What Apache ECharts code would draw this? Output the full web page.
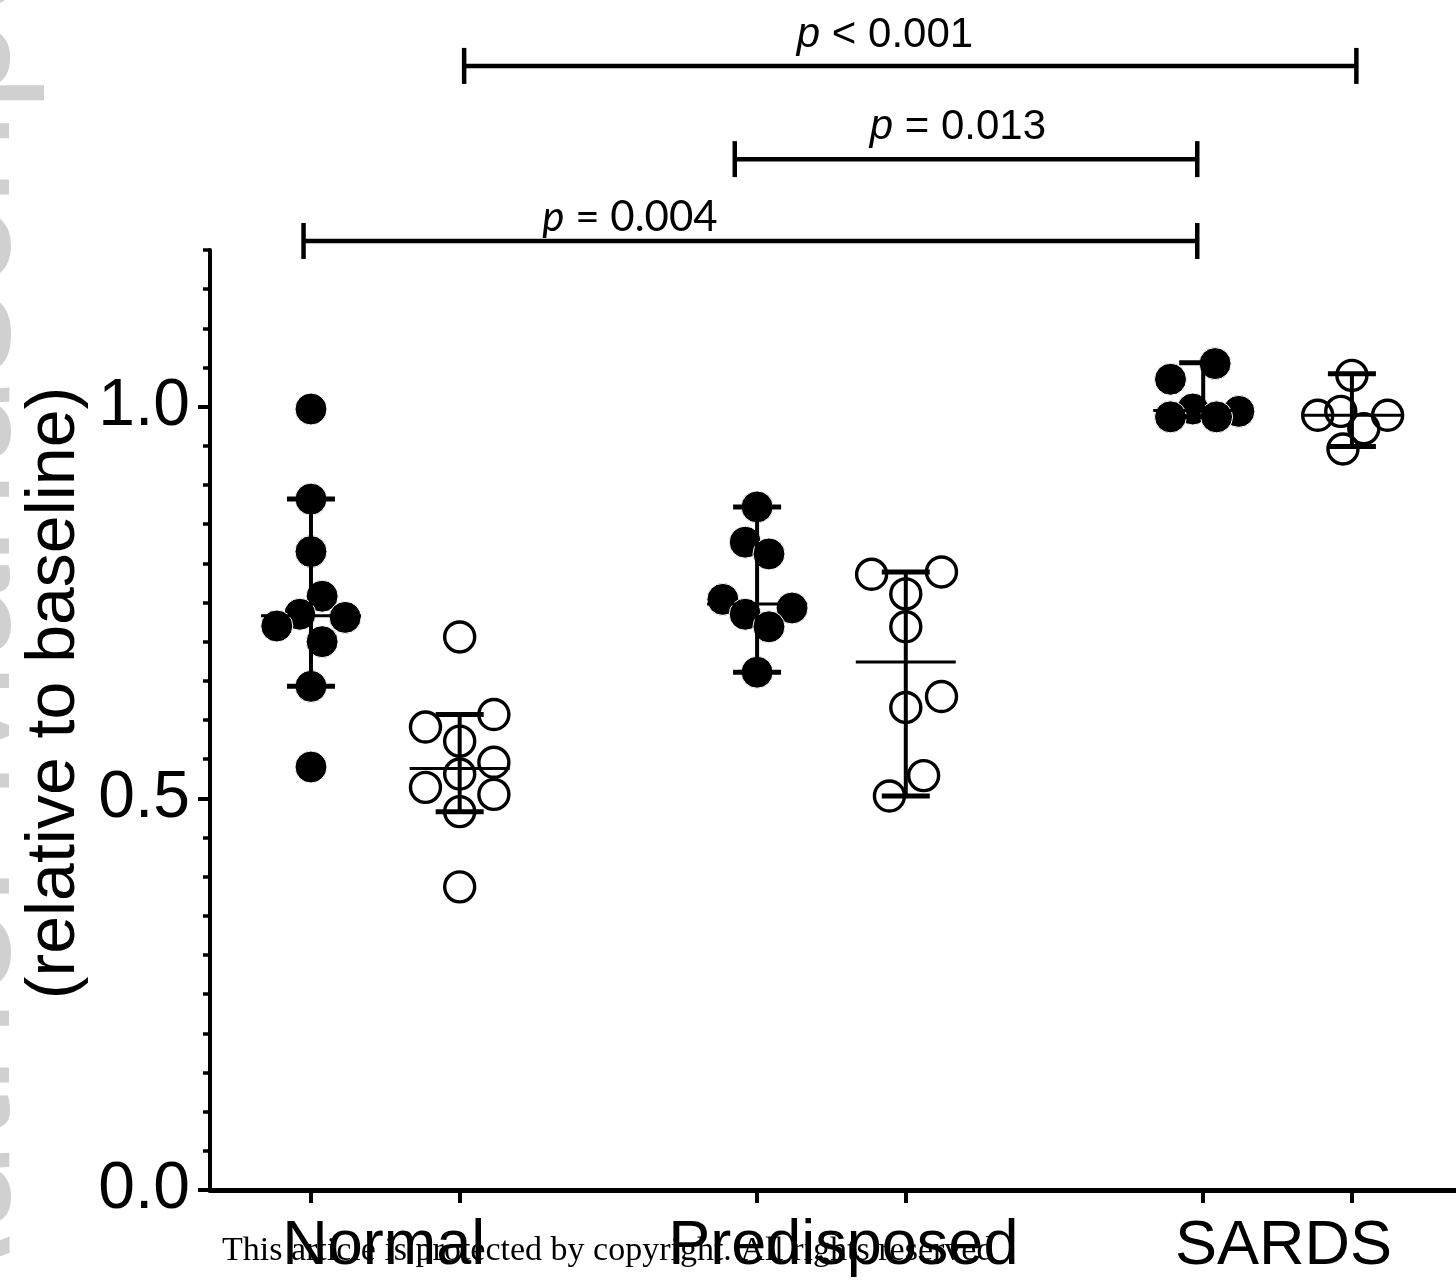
<!DOCTYPE html>
<html lang="en">
<head>
<meta charset="UTF-8">
<title>Relative to baseline</title>
<script src="https://cdn.jsdelivr.net/npm/echarts@6/dist/echarts.min.js"></script>
<style>
    html, body { margin: 0; padding: 0; background: #fff; }
    #main { width: 1456px; height: 1285px; }
</style>
</head>
<body>
<div id="main"></div>
<script>
    // groups and column positions on the x axis
    var groupNames = ['Normal', 'Predisposed', 'SARDS'];
    var groupLabelPos = [1.49, 4.58, 7.54];
    var columnPos = [1, 2, 4, 5, 7, 8];

    // y axis ticks
    var yMajorTicks = [0, 0.5, 1.0];
    var yMinorStep = 0.05;

    // points (value + horizontal jitter), filled = first column, open = second column
    var normalFilledVals = [0.997, 0.882, 0.815, 0.758, 0.735, 0.731, 0.720, 0.700, 0.643, 0.540];
    var normalFilledJit  = [0, 0, 0, 0.075, -0.075, 0.23, -0.23, 0.075, 0, 0];
    var normalOpenVals   = [0.706, 0.607, 0.591, 0.573, 0.546, 0.531, 0.514, 0.505, 0.483, 0.387];
    var normalOpenJit    = [0, 0.23, -0.23, 0, 0.23, 0, -0.23, 0.23, 0, 0];
    var predFilledVals   = [0.872, 0.827, 0.812, 0.754, 0.743, 0.735, 0.719, 0.661];
    var predFilledJit    = [0, -0.08, 0.08, -0.23, 0.235, -0.08, 0.08, 0];
    var predOpenVals     = [0.789, 0.786, 0.761, 0.719, 0.630, 0.616, 0.529, 0.503];
    var predOpenJit      = [0.24, -0.23, 0, 0, 0.24, 0, 0.12, -0.11];
    var sardsFilledVals  = [1.055, 1.035, 0.997, 0.994, 0.987, 0.987];
    var sardsFilledJit   = [0.08, -0.22, -0.07, 0.24, -0.22, 0.09];
    var sardsOpenVals    = [1.040, 0.994, 0.989, 0.989, 0.972, 0.946];
    var sardsOpenJit     = [0, -0.075, -0.23, 0.24, 0.08, -0.06];

    // median with 95% CI for each column
    var medians = [0.733, 0.538, 0.748, 0.674, 0.995, 0.989];
    var ciLow   = [0.643, 0.483, 0.661, 0.503, 0.987, 0.949];
    var ciHigh  = [0.882, 0.607, 0.872, 0.789, 1.056, 1.042];

    // significance brackets
    var bracketFrom   = [2.03, 3.85, 0.95];
    var bracketTo     = [8.03, 6.96, 6.96];
    var bracketLevel  = [1.435, 1.316, 1.2115];
    var bracketTextX  = [4.86, 5.35, 3.145];
    var bracketTextY  = [1.4745, 1.356, 1.242];
    var bracketText   = ['< 0.001', '= 0.013', '= 0.004'];
    var bracketFonts  = ['Liberation Sans', 'Liberation Sans', 'Lato'];

    function pts(col, vals, jit) {
        var out = [];
        for (var i = 0; i < vals.length; i++) {
            out.push([columnPos[col] + jit[i], vals[i]]);
        }
        return out;
    }

    var minorTicks = [];
    for (var k = 0; k <= 24; k++) minorTicks.push(+(k * yMinorStep).toFixed(2));

    var barData = [];
    for (var c = 0; c < columnPos.length; c++) {
        barData.push([columnPos[c], medians[c], ciLow[c], ciHigh[c]]);
    }
    var bracketData = [];
    for (var b = 0; b < bracketFrom.length; b++) {
        bracketData.push([bracketFrom[b], bracketTo[b], bracketLevel[b], bracketTextX[b], bracketTextY[b]]);
    }

    var myChart = echarts.init(document.getElementById('main'));

    var filledStyle = { color: '#000', borderColor: '#fff', borderWidth: 1, opacity: 1 };
    var openStyle = { color: 'rgba(0,0,0,0)', borderColor: '#000', borderWidth: 3.4, opacity: 1 };

    function scatter(data, filled) {
        return {
            type: 'scatter',
            data: data,
            symbol: 'circle',
            symbolSize: filled ? 32 : 30,
            itemStyle: filled ? filledStyle : openStyle,
            emphasis: { disabled: true },
            z: 2
        };
    }

    option = {
        animation: false,
        backgroundColor: '#fff',
        grid: { left: 210, top: 250, right: 0, bottom: 95 },
        xAxis: {
            type: 'value',
            min: 0.321,
            max: 8.70,
            splitLine: { show: false },
            axisLine: { lineStyle: { color: '#000', width: 5 } },
            axisTick: { customValues: columnPos, length: 13, lineStyle: { color: '#000', width: 4 } },
            axisLabel: {
                customValues: groupLabelPos,
                margin: 25,
                fontSize: 63,
                fontFamily: 'Liberation Sans',
                color: '#000',
                formatter: function (v) {
                    var best = 0;
                    for (var i = 1; i < groupLabelPos.length; i++) {
                        if (Math.abs(groupLabelPos[i] - v) < Math.abs(groupLabelPos[best] - v)) best = i;
                    }
                    return groupNames[best];
                }
            }
        },
        yAxis: [{
            type: 'value',
            min: 0,
            max: 1.2,
            splitLine: { show: false },
            axisLine: { show: true, lineStyle: { color: '#000', width: 4 } },
            axisTick: { show: true, customValues: yMajorTicks, length: 12, lineStyle: { color: '#000', width: 4 } },
            axisLabel: {
                customValues: yMajorTicks,
                margin: 20,
                fontSize: 66,
                fontFamily: 'Liberation Sans',
                color: '#000',
                formatter: function (v) { return v.toFixed(1); }
            }
        }, {
            type: 'value',
            min: 0,
            max: 1.2,
            position: 'left',
            splitLine: { show: false },
            axisLine: { show: false },
            axisLabel: { show: false },
            axisTick: { show: true, customValues: minorTicks, length: 7, lineStyle: { color: '#000', width: 3.5 } }
        }],
        series: [
            scatter(pts(0, normalFilledVals, normalFilledJit), true),
            scatter(pts(1, normalOpenVals, normalOpenJit), false),
            scatter(pts(2, predFilledVals, predFilledJit), true),
            scatter(pts(3, predOpenVals, predOpenJit), false),
            scatter(pts(4, sardsFilledVals, sardsFilledJit), true),
            scatter(pts(5, sardsOpenVals, sardsOpenJit), false),
            {
                // median + 95% CI bars
                type: 'custom',
                data: barData,
                z: 3,
                silent: true,
                renderItem: function (params, api) {
                    var x = api.value(0);
                    var m = api.coord([x, api.value(1)]);
                    var lo = api.coord([x, api.value(2)]);
                    var hi = api.coord([x, api.value(3)]);
                    return {
                        type: 'group',
                        children: [
                            { type: 'line', shape: { x1: lo[0], y1: lo[1], x2: hi[0], y2: hi[1] }, style: { stroke: '#000', lineWidth: 4 } },
                            { type: 'line', shape: { x1: hi[0] - 24, y1: hi[1], x2: hi[0] + 24, y2: hi[1] }, style: { stroke: '#000', lineWidth: 5 } },
                            { type: 'line', shape: { x1: lo[0] - 24, y1: lo[1], x2: lo[0] + 24, y2: lo[1] }, style: { stroke: '#000', lineWidth: 5 } },
                            { type: 'line', shape: { x1: m[0] - 50, y1: m[1], x2: m[0] + 50, y2: m[1] }, style: { stroke: '#000', lineWidth: 3 } }
                        ]
                    };
                }
            },
            {
                // significance brackets above the plot
                type: 'custom',
                data: bracketData,
                clip: false,
                silent: true,
                renderItem: function (params, api) {
                    var i = params.dataIndex;
                    var a = api.coord([api.value(0), api.value(2)]);
                    var b = api.coord([api.value(1), api.value(2)]);
                    var t = api.coord([api.value(3), api.value(4)]);
                    var font = bracketFonts[i];
                    return {
                        type: 'group',
                        children: [
                            { type: 'line', shape: { x1: a[0], y1: a[1], x2: b[0], y2: b[1] }, style: { stroke: '#000', lineWidth: 4.5 } },
                            { type: 'line', shape: { x1: a[0], y1: a[1] - 18, x2: a[0], y2: a[1] + 18 }, style: { stroke: '#000', lineWidth: 4.5 } },
                            { type: 'line', shape: { x1: b[0], y1: b[1] - 18, x2: b[0], y2: b[1] + 18 }, style: { stroke: '#000', lineWidth: 4.5 } },
                            {
                                type: 'text',
                                x: t[0],
                                y: t[1],
                                style: {
                                    text: '{i|p} ' + bracketText[i],
                                    fontSize: 42,
                                    fontFamily: font,
                                    fill: '#000',
                                    align: 'center',
                                    verticalAlign: 'middle',
                                    rich: {
                                        i: { fontStyle: 'italic', fontSize: 42, fontFamily: font, fill: '#000' }
                                    }
                                }
                            }
                        ]
                    };
                }
            }
        ],
        graphic: [
            {
                // faint watermark at the left edge
                type: 'text',
                x: -38,
                y: -30,
                rotation: Math.PI / 2,
                silent: true,
                z: -10,
                style: {
                    text: 'Author Manuscript',
                    fontSize: 170,
                    fontFamily: 'Liberation Sans',
                    fill: '#d0d0d0',
                    align: 'right',
                    verticalAlign: 'middle'
                }
            },
            {
                type: 'text',
                x: 55,
                y: 693,
                rotation: Math.PI / 2,
                silent: true,
                style: {
                    text: '(relative to baseline)',
                    fontSize: 68,
                    fontFamily: 'Liberation Sans',
                    fill: '#000',
                    align: 'center',
                    verticalAlign: 'middle'
                }
            },
            {
                type: 'text',
                x: 222,
                y: 1251,
                silent: true,
                z: 100,
                style: {
                    text: 'This article is protected by copyright. All rights reserved',
                    fontSize: 34,
                    fontFamily: 'Liberation Serif',
                    fill: '#000',
                    align: 'left',
                    verticalAlign: 'middle'
                }
            }
        ]
    };

    myChart.setOption(option);
</script>
</body>
</html>
